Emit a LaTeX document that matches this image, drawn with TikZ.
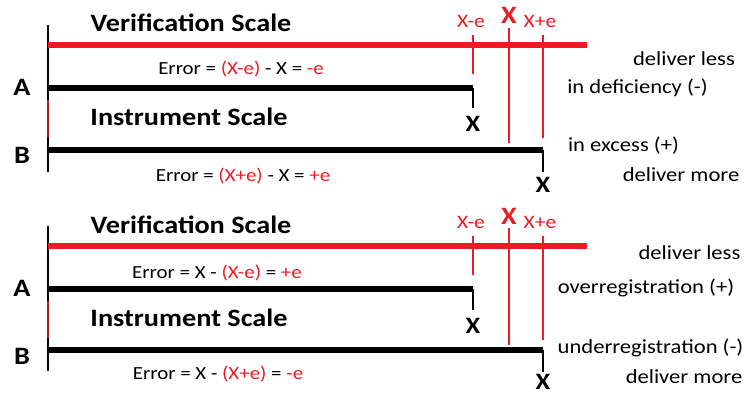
\documentclass[tikz,border=0pt]{standalone}
\usepackage{fontspec}
\setmainfont{Carlito}[FakeStretch=1.13]
\definecolor{scred}{RGB}{237,28,36}
\definecolor{axred}{RGB}{170,30,40}
\begin{document}
\begin{tikzpicture}[x=1pt,y=-1pt,
  title/.style={font=\bfseries\fontsize{25}{28}\selectfont, inner sep=0pt},
  lab/.style={font=\bfseries\fontsize{25}{28}\selectfont, inner sep=0pt},
  xmark/.style={font=\bfseries\fontsize{23.5}{26}\selectfont, inner sep=0pt},
  rxmark/.style={font=\bfseries\fontsize{25}{28}\selectfont, inner sep=0pt, text=scred},
  tick/.style={font=\fontsize{19}{22}\selectfont, inner sep=0pt, text=scred},
  err/.style={font=\fontsize{18.5}{22}\selectfont, inner sep=0pt},
  side/.style={font=\fontsize{20}{23}\selectfont, inner sep=0pt},
  axis/.style={line width=1.2pt, black},
  redbar/.style={line width=6pt, scred},
  blackbar/.style={line width=6.5pt, black},
  thinblk/.style={line width=1.3pt, black},
  thinred/.style={line width=1.2pt, scred}]
\useasboundingbox (0,0) rectangle (752,393);
\fill[white] (0,0) rectangle (752,393);
% ================= top panel =================
\coordinate (t1a) at (48,25); \coordinate (t1b) at (48,172);
\draw[axis] (t1a) -- (t1b);
\draw[line width=1.2pt, axred] (48,100) -- (48,137);
\coordinate (r1s) at (48,45.5); \coordinate (r1e) at (587,45.5);
\draw[redbar] (r1s) -- (r1e);
\coordinate (a1s) at (48,88); \coordinate (a1e) at (473,88); \coordinate (a1d) at (473,108);
\draw[blackbar] (a1s) -- (a1e);
\draw[thinblk] (a1e) -- (a1d);
\coordinate (b1s) at (48,150); \coordinate (b1e) at (543,150); \coordinate (b1d) at (543,172);
\draw[blackbar] (b1s) -- (b1e);
\draw[thinblk] (b1e) -- (b1d);
\coordinate (m1t) at (473,35); \coordinate (m1b) at (473,74);
\coordinate (x1t) at (509,28); \coordinate (x1b) at (509,143);
\coordinate (p1t) at (543,35); \coordinate (p1b) at (543,138);
\draw[thinred] (m1t) -- (m1b);
\draw[thinred] (x1t) -- (x1b);
\draw[thinred] (p1t) -- (p1b);
\node[title] (vs1) at (191,23) {Verification Scale};
\node[title] (is1) at (189,117) {Instrument Scale};
\node[lab] (A1) at (22,87) {A};
\node[lab] (B1) at (22,155) {B};
\node[tick] (me1) at (471,21) {X-e};
\node[rxmark] (X1) at (509,15) {X};
\node[tick] (pe1) at (540,21) {X+e};
\node[xmark] (xa1) at (473,124) {X};
\node[xmark] (xb1) at (543,185) {X};
\node[err] (e1) at (241,69) {Error = \textcolor{scred}{(X-e)} - X = \textcolor{scred}{-e}};
\node[err] (e2) at (243,176) {Error = \textcolor{scred}{(X+e)} - X = \textcolor{scred}{+e}};
\node[side] (dl1) at (684,59) {deliver less};
\node[side] (df1) at (637.5,88) {in deficiency (-)};
\node[side] (ex1) at (623.5,146) {in excess (+)};
\node[side] (dm1) at (681,175) {deliver more};
% ================= bottom panel =================
\coordinate (t2a) at (48,226); \coordinate (t2b) at (48,371);
\draw[axis] (t2a) -- (t2b);
\draw[line width=1.2pt, axred] (48,301) -- (48,338);
\coordinate (r2s) at (48,246); \coordinate (r2e) at (587,246);
\draw[redbar] (r2s) -- (r2e);
\coordinate (a2s) at (48,289); \coordinate (a2e) at (473,289); \coordinate (a2d) at (473,310);
\draw[blackbar] (a2s) -- (a2e);
\draw[thinblk] (a2e) -- (a2d);
\coordinate (b2s) at (48,350); \coordinate (b2e) at (543,350); \coordinate (b2d) at (543,372);
\draw[blackbar] (b2s) -- (b2e);
\draw[thinblk] (b2e) -- (b2d);
\coordinate (m2t) at (473,236); \coordinate (m2b) at (473,275);
\coordinate (x2t) at (509,228); \coordinate (x2b) at (509,345);
\coordinate (p2t) at (543,236); \coordinate (p2b) at (543,340);
\draw[thinred] (m2t) -- (m2b);
\draw[thinred] (x2t) -- (x2b);
\draw[thinred] (p2t) -- (p2b);
\node[title] (vs2) at (191,225) {Verification Scale};
\node[title] (is2) at (189,318) {Instrument Scale};
\node[lab] (A2) at (22,288) {A};
\node[lab] (B2) at (22,356) {B};
\node[tick] (me2) at (471,222) {X-e};
\node[rxmark] (X2) at (509,216) {X};
\node[tick] (pe2) at (540,222) {X+e};
\node[xmark] (xa2) at (473,326) {X};
\node[xmark] (xb2) at (543,382) {X};
\node[err] (e3) at (217,273) {Error = X - \textcolor{scred}{(X-e)} = \textcolor{scred}{+e}};
\node[err] (e4) at (218,374) {Error = X - \textcolor{scred}{(X+e)} = \textcolor{scred}{-e}};
\node[side] (dl2) at (689.5,253) {deliver less};
\node[side] (ov2) at (646,288) {overregistration (+)};
\node[side] (un2) at (650.5,348) {underregistration (-)};
\node[side] (dm2) at (684,377) {deliver more};
\end{tikzpicture}
\end{document}
